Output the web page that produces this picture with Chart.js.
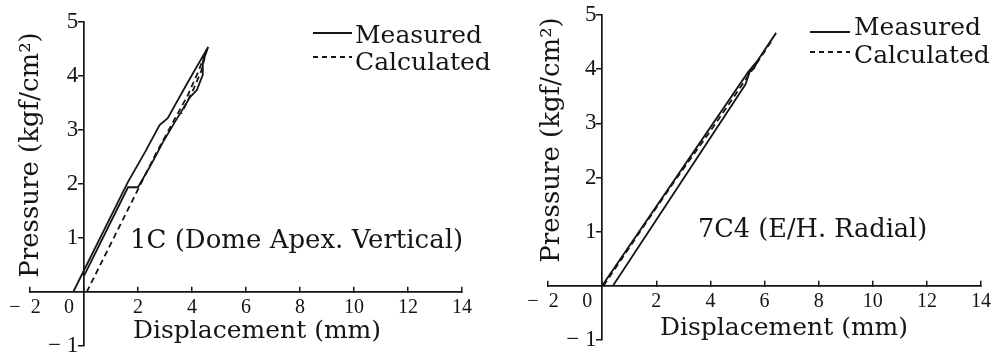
<!DOCTYPE html>
<html><head><meta charset="utf-8">
<script src="https://cdn.jsdelivr.net/npm/chart.js@4.4.1/dist/chart.umd.min.js"></script>
<style>
html,body{margin:0;padding:0;background:#fff;}
#wrap{position:relative;width:995px;height:354px;overflow:hidden;}
canvas{position:absolute;top:0;}
</style></head><body>
<div id="wrap">
<canvas id="c1" width="497" height="354" style="left:0"></canvas>
<canvas id="c2" width="498" height="354" style="left:497px"></canvas>
</div>
<script>
// ---- data ----
const seriesNames = ['Measured', 'Calculated'];
const xTitle = 'Displacement (mm)';
const yTitle = 'Pressure (kgf/cm\u00B2)';
const leftLabel = '1C (Dome Apex. Vertical)';
const rightLabel = '7C4 (E/H. Radial)';
const xTickValues = [-2, 0, 2, 4, 6, 8, 10, 12, 14];
const yTickValues = [-1, 1, 2, 3, 4, 5];

// 1C measured (hysteresis loop)
const leftMeasuredX = [-0.4, 1.63, 2.26, 2.8, 3.1, 3.85, 4.6, 4.4, 4.4, 4.18, 3.93, 3.37, 2.93, 2.52, 2.0, 1.63, 0.0];
const leftMeasuredY = [0.0, 2.04, 2.59, 3.09, 3.22, 3.89, 4.54, 4.26, 4.02, 3.74, 3.61, 3.15, 2.78, 2.39, 1.94, 1.94, 0.3];
// 1C calculated
const leftCalcX = [0.1, 1.95, 2.6, 3.3, 3.85, 4.25, 4.55, 4.35, 4.05, 3.6];
const leftCalcY = [0.0, 1.85, 2.5, 3.15, 3.65, 4.1, 4.5, 4.1, 3.75, 3.3];

// 7C4 measured (hysteresis loop)
const rightMeasuredX = [0.0, 5.4, 5.76, 6.43, 5.76, 5.62, 5.45, 5.3, 0.4];
const rightMeasuredY = [0.0, 3.95, 4.17, 4.67, 4.17, 4.02, 3.95, 3.72, 0.0];
// 7C4 calculated
const rightCalcX = [0.05, 1.4, 2.7, 4.2, 5.5, 6.3];
const rightCalcY = [0.0, 1.0, 1.95, 3.0, 3.95, 4.55];

// ---- helpers ----
function pts(xs, ys) { return xs.map((x, i) => ({ x: x, y: ys[i] })); }
const INK = '#151515';
const TXT_FONT = '"DejaVu Serif", serif';
const TICK_FONT = '"Liberation Serif", serif';

function xTickLabel(v) {
  if (v < 0) return '\u2212  ' + Math.abs(v) + '  ';
  if (v === 0) return '0      ';
  return String(v);
}
function yTickLabel(v) {
  if (v === 0) return '';
  if (v < 0) return '\u2212 ' + Math.abs(v) + ' ';
  return v + ' ';
}

const textPlugin = {
  id: 'textDeco',
  afterDraw(chart, args, o) {
    const ctx = chart.ctx;
    ctx.save();
    ctx.fillStyle = INK;
    ctx.strokeStyle = INK;
    // y title
    ctx.save();
    ctx.translate(o.yTitleX, o.yTitleY);
    ctx.rotate(-Math.PI / 2);
    ctx.font = '26px ' + TXT_FONT;
    ctx.textAlign = 'center';
    ctx.textBaseline = 'middle';
    ctx.fillText(yTitle, 0, 0);
    ctx.restore();
    // x title
    ctx.font = '25px ' + TXT_FONT;
    ctx.textAlign = 'left';
    ctx.textBaseline = 'alphabetic';
    ctx.fillText(xTitle, o.xTitleX, o.xTitleY);
    // annotation
    ctx.font = o.labelSize + 'px ' + TXT_FONT;
    ctx.fillText(o.label, o.labelX, o.labelY);
    // legend
    ctx.font = '25px ' + TXT_FONT;
    ctx.lineWidth = 1.8;
    ctx.setLineDash([]);
    ctx.beginPath(); ctx.moveTo(o.legX0, o.legY1); ctx.lineTo(o.legX1, o.legY1); ctx.stroke();
    ctx.setLineDash([5, 4]);
    ctx.beginPath(); ctx.moveTo(o.legX0, o.legY2); ctx.lineTo(o.legX1, o.legY2); ctx.stroke();
    ctx.setLineDash([]);
    ctx.fillText(seriesNames[0], o.legTX, o.legTY1);
    ctx.fillText(seriesNames[1], o.legTX, o.legTY2);
    ctx.restore();
  }
};

function makeChart(id, measured, calc, pad, deco) {
  return new Chart(document.getElementById(id), {
    type: 'scatter',
    data: {
      datasets: [
        { label: seriesNames[0], data: measured, showLine: true, borderColor: INK, borderWidth: 1.8, pointRadius: 0, fill: false, tension: 0 },
        { label: seriesNames[1], data: calc, showLine: true, borderColor: INK, borderWidth: 1.8, borderDash: [6, 4], pointRadius: 0, fill: false, tension: 0 }
      ]
    },
    options: {
      responsive: false,
      animation: false,
      events: [],
      layout: { padding: pad, autoPadding: false },
      plugins: { legend: { display: false }, tooltip: { enabled: false }, textDeco: deco },
      scales: {
        x: {
          type: 'linear', min: -2, max: 14,
          position: { y: 0 },
          afterFit(s) { s.height = 0; s.paddingLeft = 0; s.paddingRight = 0; },
          afterBuildTicks(s) { s.ticks = xTickValues.map(v => ({ value: v })); },
          ticks: { callback: xTickLabel, color: INK, font: { family: TICK_FONT, size: 20 }, padding: 10, maxRotation: 0, autoSkip: false },
          grid: { drawOnChartArea: false, drawTicks: true, tickLength: -6, color: INK, lineWidth: 1.5 },
          border: { display: true, color: INK, width: 1.7 }
        },
        y: {
          type: 'linear', min: -1, max: 5,
          position: { x: 0 },
          afterFit(s) { s.width = 0; s.paddingTop = 0; s.paddingBottom = 0; },
          afterBuildTicks(s) { s.ticks = yTickValues.map(v => ({ value: v })); },
          ticks: { callback: yTickLabel, color: INK, font: { family: TICK_FONT, size: 23 }, padding: 2, autoSkip: false },
          grid: { drawOnChartArea: false, drawTicks: true, tickLength: 5, color: INK, lineWidth: 1.5 },
          border: { display: true, color: INK, width: 1.7 }
        }
      }
    },
    plugins: [textPlugin]
  });
}

makeChart('c1', pts(leftMeasuredX, leftMeasuredY), pts(leftCalcX, leftCalcY),
  { left: 30, right: 35, top: 22, bottom: 8 },
  { yTitleX: 31, yTitleY: 155, xTitleX: 133, xTitleY: 338, label: leftLabel, labelSize: 26, labelX: 130, labelY: 248,
    legX0: 313, legX1: 352, legY1: 33, legY2: 57, legTX: 355, legTY1: 43, legTY2: 70 });

makeChart('c2', pts(rightMeasuredX, rightMeasuredY), pts(rightCalcX, rightCalcY),
  { left: 51, right: 14, top: 15, bottom: 14 },
  { yTitleX: 55, yTitleY: 140, xTitleX: 163, xTitleY: 335, label: rightLabel, labelSize: 25.6, labelX: 201, labelY: 237,
    legX0: 313, legX1: 353, legY1: 32, legY2: 52, legTX: 357, legTY1: 35, legTY2: 63 });
</script>
</body></html>
